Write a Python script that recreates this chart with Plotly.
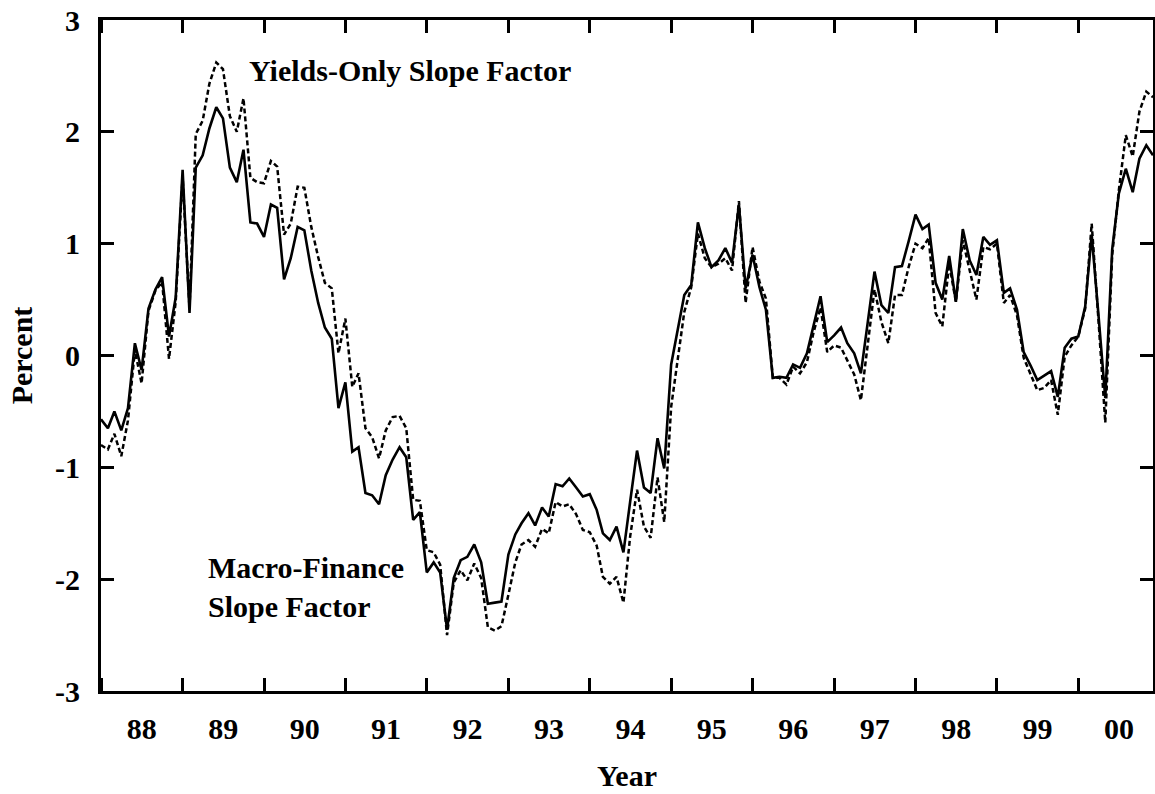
import pandas as pd
import plotly.graph_objects as go

# Monthly observations, 1988:01 - 2000:12
months = pd.date_range("1988-01-01", "2000-12-01", freq="MS")

macro_finance_slope = [
    -0.57, -0.65, -0.50, -0.67, -0.47, 0.11, -0.13, 0.42, 0.59, 0.70, 0.17, 0.52,
    1.66, 0.38, 1.68, 1.79, 2.03, 2.22, 2.12, 1.68, 1.55, 1.84, 1.19, 1.18,
    1.06, 1.35, 1.32, 0.68, 0.87, 1.15, 1.12, 0.76, 0.47, 0.25, 0.15, -0.47,
    -0.24, -0.86, -0.82, -1.23, -1.25, -1.33, -1.07, -0.93, -0.82, -0.91, -1.47, -1.40,
    -1.94, -1.85, -1.94, -2.45, -1.99, -1.83, -1.80, -1.69, -1.85, -2.22, -2.21, -2.20,
    -1.78, -1.60, -1.50, -1.41, -1.52, -1.36, -1.44, -1.15, -1.17, -1.10, -1.18, -1.26,
    -1.24, -1.38, -1.59, -1.65, -1.53, -1.76, -1.31, -0.85, -1.18, -1.23, -0.74, -1.01,
    -0.08, 0.26, 0.54, 0.63, 1.19, 0.96, 0.79, 0.85, 0.96, 0.83, 1.35, 0.60,
    0.90, 0.61, 0.41, -0.20, -0.19, -0.20, -0.08, -0.11, 0.02, 0.27, 0.53, 0.12,
    0.18, 0.25, 0.11, 0.02, -0.16, 0.30, 0.75, 0.45, 0.38, 0.79, 0.80, 1.02,
    1.26, 1.13, 1.17, 0.65, 0.50, 0.89, 0.48, 1.13, 0.85, 0.72, 1.06, 0.99,
    1.03, 0.56, 0.60, 0.41, 0.03, -0.09, -0.22, -0.18, -0.14, -0.37, 0.07, 0.15,
    0.17, 0.44, 1.08, 0.35, -0.38, 0.95, 1.45, 1.67, 1.46, 1.76, 1.88, 1.79,
]

yields_only_slope = [
    -0.80, -0.84, -0.70, -0.90, -0.58, 0.05, -0.25, 0.40, 0.58, 0.66, -0.03, 0.48,
    1.60, 0.42, 1.98, 2.10, 2.43, 2.62, 2.56, 2.14, 2.00, 2.30, 1.59, 1.55,
    1.54, 1.74, 1.69, 1.08, 1.18, 1.51, 1.50, 1.15, 0.88, 0.65, 0.60, 0.02,
    0.33, -0.28, -0.16, -0.65, -0.73, -0.92, -0.67, -0.55, -0.54, -0.65, -1.29, -1.30,
    -1.74, -1.76, -1.87, -2.50, -2.03, -1.92, -2.01, -1.86, -1.99, -2.43, -2.46, -2.42,
    -2.14, -1.85, -1.69, -1.65, -1.71, -1.55, -1.59, -1.31, -1.35, -1.33, -1.42, -1.56,
    -1.58, -1.70, -1.98, -2.04, -1.98, -2.21, -1.62, -1.20, -1.53, -1.63, -1.09, -1.49,
    -0.46, -0.01, 0.39, 0.61, 1.09, 0.87, 0.79, 0.82, 0.87, 0.76, 1.38, 0.47,
    0.97, 0.66, 0.51, -0.20, -0.20, -0.26, -0.10, -0.16, -0.06, 0.21, 0.43, 0.03,
    0.09, 0.07, -0.04, -0.17, -0.40, 0.10, 0.59, 0.30, 0.11, 0.54, 0.54, 0.79,
    1.00, 0.96, 1.05, 0.38, 0.26, 0.82, 0.48, 1.03, 0.76, 0.50, 0.97, 0.95,
    1.00, 0.47, 0.54, 0.36, -0.02, -0.16, -0.31, -0.29, -0.22, -0.53, -0.01, 0.09,
    0.17, 0.42, 1.18, 0.30, -0.60, 0.90, 1.48, 1.97, 1.78, 2.18, 2.36, 2.31,
]

y_ticks = [-3, -2, -1, 0, 1, 2, 3]

FONT = "Liberation Serif, Times New Roman, serif"
BOLD = dict(family=FONT, size=30, color="black", weight="bold")

fig = go.Figure()
fig.add_trace(go.Scatter(
    x=months, y=yields_only_slope, mode="lines", name="Yields-Only Slope Factor",
    line=dict(color="black", width=2.5, dash="5px,3px"),
))
fig.add_trace(go.Scatter(
    x=months, y=macro_finance_slope, mode="lines", name="Macro-Finance Slope Factor",
    line=dict(color="black", width=2.6),
))

fig.add_annotation(
    text="Yields-Only Slope Factor", xref="paper", yref="paper",
    x=0.139, y=0.925, xanchor="left", yanchor="middle", showarrow=False,
    font=BOLD,
)
fig.add_annotation(
    text="Macro-Finance<br>Slope Factor", xref="paper", yref="paper",
    x=0.1, y=0.155, xanchor="left", yanchor="middle", align="left", showarrow=False,
    font=BOLD,
)

fig.update_layout(
    width=1155, height=794,
    margin=dict(l=101, r=2, t=20, b=103),
    paper_bgcolor="white", plot_bgcolor="white",
    showlegend=False,
    font=BOLD,
)
fig.update_xaxes(
    type="date", automargin=False,
    range=[months[0], months[-1]],
    dtick="M12", tick0="1988-01-01",
    tickformat="%y", ticklabelmode="period",
    ticks="inside", ticklen=13, tickwidth=3, tickcolor="black",
    showline=True, linewidth=3, linecolor="black", mirror="allticks",
    showgrid=False, zeroline=False, ticklabelstandoff=9,
    tickfont=BOLD,
    title=dict(text="Year", standoff=21, font=BOLD),
)
fig.update_yaxes(
    automargin=False,
    range=[-3, 3], tickvals=y_ticks, ticktext=[str(v) for v in y_ticks],
    ticks="inside", ticklen=13, tickwidth=3, tickcolor="black",
    showline=True, linewidth=3, linecolor="black", mirror="allticks",
    showgrid=False, zeroline=False, ticklabelstandoff=12,
    tickfont=BOLD,
    title=dict(text="Percent", standoff=14, font=BOLD),
)

fig.write_html(
    "out.html",
    config={"displayModeBar": False},
    post_script="document.body.style.margin='0';document.body.style.padding='0';"
                "document.body.style.overflow='hidden';",
)
